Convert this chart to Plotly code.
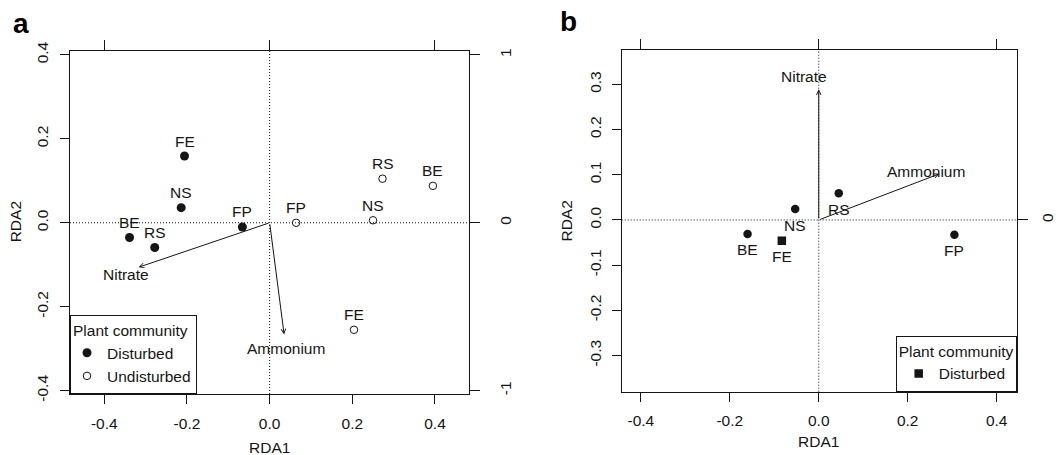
import plotly.graph_objects as go

# ---------------- data ----------------
# Panel a: site scores
a_dist_sites = ["FE", "NS", "FP", "BE", "RS"]
a_dist_x = [-0.206, -0.214, -0.066, -0.339, -0.278]
a_dist_y = [0.159, 0.036, -0.010, -0.035, -0.059]

a_undist_sites = ["RS", "BE", "NS", "FP", "FE"]
a_undist_x = [0.273, 0.395, 0.250, 0.064, 0.204]
a_undist_y = [0.105, 0.088, 0.006, 0.000, -0.255]

# Panel a: environmental vectors
a_env_names = ["Nitrate", "Ammonium"]
a_env_x = [-0.317, 0.035]
a_env_y = [-0.106, -0.266]

# Panel b: site scores (disturbed only)
b_sites = ["FE", "BE", "NS", "RS", "FP"]
b_x = [-0.083, -0.160, -0.053, 0.045, 0.305]
b_y = [-0.046, -0.031, 0.024, 0.059, -0.033]

# Panel b: environmental vectors
b_env_names = ["Nitrate", "Ammonium"]
b_env_x = [0.000, 0.271]
b_env_y = [0.289, 0.102]

# tick labels
a_xticks = [-0.4, -0.2, 0.0, 0.2, 0.4]
a_yticks = [-0.4, -0.2, 0.0, 0.2, 0.4]
a_y2ticks = [-1, 0, 1]
b_xticks = [-0.4, -0.2, 0.0, 0.2, 0.4]
b_yticks = [-0.3, -0.2, -0.1, 0.0, 0.1, 0.2, 0.3]
top_ticks = [-0.4, 0.0, 0.4]

# ---------------- style ----------------
W, H = 1060, 455
FONT = "Liberation Sans, Arial, Helvetica, sans-serif"
FS = 15.5
INK = "#151515"

def px_x(p):
    return p / W

def px_y(p):
    return 1 - p / H

a_xdom = [px_x(70), px_x(469.3)]
a_ydom = [px_y(394), px_y(50.7)]
b_xdom = [px_x(621.7), px_x(1016.7)]
b_ydom = [px_y(391.7), px_y(50)]

a_xr = [-0.483, 0.483]
a_yr = [-0.408, 0.410]
b_xr = [-0.443, 0.445]
b_yr = [-0.380, 0.376]

fig = go.Figure()

# panel a points
fig.add_trace(go.Scatter(
    x=a_dist_x, y=a_dist_y, mode="markers", name="Disturbed",
    marker=dict(symbol="circle", size=9, color=INK, line=dict(width=0)),
    xaxis="x", yaxis="y", legend="legend", hoverinfo="skip"))
fig.add_trace(go.Scatter(
    x=a_undist_x, y=a_undist_y, mode="markers", name="Undisturbed",
    marker=dict(symbol="circle-open", size=7.5, color=INK, line=dict(width=1)),
    xaxis="x", yaxis="y", legend="legend", hoverinfo="skip"))
# dummy trace to activate secondary axes of panel a
fig.add_trace(go.Scatter(x=[None], y=[None], xaxis="x2", yaxis="y2",
                         showlegend=False, hoverinfo="skip"))

# panel b points
b_symbols = ["square"] + ["circle"] * (len(b_sites) - 1)
fig.add_trace(go.Scatter(
    x=b_x, y=b_y, mode="markers", name="Disturbed",
    marker=dict(symbol=b_symbols, size=8.5, color=INK, line=dict(width=0)),
    xaxis="x3", yaxis="y3", legend="legend2", hoverinfo="skip"))
fig.add_trace(go.Scatter(x=[None], y=[None], xaxis="x4", yaxis="y4",
                         showlegend=False, hoverinfo="skip"))

annotations = []
shapes = []

def txt(**kw):
    d = dict(showarrow=False, xanchor="center", yanchor="middle",
             font=dict(family=FONT, size=FS, color=INK))
    d.update(kw)
    return d

def site_labels(names, xs, ys, xref, yref, yshift):
    for n, xv, yv in zip(names, xs, ys):
        annotations.append(txt(x=xv, y=yv, xref=xref, yref=yref, text=n,
                               yshift=yshift))

site_labels(a_dist_sites, a_dist_x, a_dist_y, "x", "y", 15)
site_labels(a_undist_sites, a_undist_x, a_undist_y, "x", "y", 15)
site_labels(b_sites, b_x, b_y, "x3", "y3", -16)

def env_vectors(names, xs, ys, xref, yref, shifts):
    for n, xv, yv, (dx, dy) in zip(names, xs, ys, shifts):
        annotations.append(dict(x=xv, y=yv, ax=0, ay=0, xref=xref, yref=yref,
                                axref=xref, ayref=yref, text="", showarrow=True,
                                arrowhead=5, arrowsize=0.9, arrowwidth=1,
                                arrowcolor=INK, standoff=0, startstandoff=0))
        annotations.append(txt(x=xv, y=yv, xref=xref, yref=yref, text=n,
                               xshift=dx, yshift=dy))

env_vectors(a_env_names, a_env_x, a_env_y, "x", "y", [(-13, -7), (2, -14)])
env_vectors(b_env_names, b_env_x, b_env_y, "x3", "y3", [(-15, 13), (-13, 2)])

# dotted zero lines
DOT = "1px,2px"
for xref, yref in (("x", "y"), ("x3", "y3")):
    shapes.append(dict(type="line", xref=xref, yref=yref + " domain",
                       x0=0, x1=0, y0=0, y1=1,
                       line=dict(color=INK, width=1, dash=DOT), layer="below"))
    shapes.append(dict(type="line", xref=xref + " domain", yref=yref,
                       x0=0, x1=1, y0=0, y1=0,
                       line=dict(color=INK, width=1, dash=DOT), layer="below"))

# axis titles and panel letters
for xref, yp in (("x", 447.7), ("x3", 441.7)):
    annotations.append(txt(x=0, y=px_y(yp), xref=xref, yref="paper", text="RDA1"))
for xp, yref in ((15, "y"), (566.7, "y3")):
    annotations.append(txt(x=px_x(xp), y=0.5, xref="paper", yref=yref + " domain",
                           text="RDA2", textangle=-90))
for letter, xp, yp in (("a", 20.5, 23), ("b", 568.3, 21)):
    annotations.append(txt(x=px_x(xp), y=px_y(yp), xref="paper", yref="paper",
                           text="<b>%s</b>" % letter,
                           font=dict(family=FONT, size=28, color="#000000")))

def fmt(v):
    return "%.1f" % v

axis_common = dict(showgrid=False, zeroline=False, showline=True, linecolor=INK,
                   linewidth=1, ticks="outside", tickcolor=INK, tickwidth=1,
                   ticklen=9, tickfont=dict(family=FONT, size=FS, color=INK),
                   fixedrange=True, automargin=False)

layout = dict(
    width=W, height=H, margin=dict(l=0, r=0, t=0, b=0, autoexpand=False),
    paper_bgcolor="white", plot_bgcolor="white",
    showlegend=True,
    # panel a
    xaxis=dict(domain=a_xdom, anchor="y", range=a_xr, tickvals=a_xticks,
               ticktext=[fmt(v) for v in a_xticks], ticklabelstandoff=6, **axis_common),
    yaxis=dict(domain=a_ydom, anchor="x", range=a_yr, tickvals=a_yticks,
               ticktext=[fmt(v) for v in a_yticks], tickangle=-90,
               ticklabelstandoff=6, **axis_common),
    xaxis2=dict(overlaying="x", side="top", anchor="y2", range=a_xr,
                tickvals=top_ticks, showticklabels=False,
                **{**axis_common, "ticklen": 10}),
    yaxis2=dict(overlaying="y", side="right", anchor="x2",
                range=[a_yr[0] / 0.4, a_yr[1] / 0.4], tickvals=a_y2ticks,
                ticktext=[str(v) for v in a_y2ticks], tickangle=-90,
                ticklabelstandoff=12, **{**axis_common, "ticklen": 10}),
    # panel b
    xaxis3=dict(domain=b_xdom, anchor="y3", range=b_xr, tickvals=b_xticks,
                ticktext=[fmt(v) for v in b_xticks], ticklabelstandoff=6, **axis_common),
    yaxis3=dict(domain=b_ydom, anchor="x3", range=b_yr, tickvals=b_yticks,
                ticktext=[fmt(v) for v in b_yticks], tickangle=-90,
                ticklabelstandoff=5, **axis_common),
    xaxis4=dict(overlaying="x3", side="top", anchor="y4", range=b_xr,
                tickvals=top_ticks, showticklabels=False,
                **{**axis_common, "ticklen": 10}),
    yaxis4=dict(overlaying="y3", side="right", anchor="x4",
                range=[b_yr[0] / 0.4, b_yr[1] / 0.4], tickvals=[0],
                ticktext=["0"], tickangle=-90, ticklabelstandoff=7,
                **{**axis_common, "ticklen": 10}),
    legend=dict(x=px_x(70), y=px_y(394), xanchor="left", yanchor="bottom",
                bgcolor="white", bordercolor=INK, borderwidth=1, indentation=-4,
                title=dict(text="Plant community",
                           font=dict(family=FONT, size=FS, color=INK)),
                font=dict(family=FONT, size=FS, color=INK),
                itemclick=False, itemdoubleclick=False),
    legend2=dict(x=px_x(1016.7), y=px_y(391.7), xanchor="right", yanchor="bottom",
                 bgcolor="white", bordercolor=INK, borderwidth=1, indentation=2,
                 title=dict(text="Plant community",
                            font=dict(family=FONT, size=FS, color=INK)),
                 font=dict(family=FONT, size=FS, color=INK),
                 itemclick=False, itemdoubleclick=False),
    annotations=annotations,
    shapes=shapes,
)
fig.update_layout(**layout)

fig.write_html("out.html", config=dict(displayModeBar=False, staticPlot=True),
               post_script="document.body.style.margin='0';"
                           "document.body.style.padding='0';"
                           "document.body.style.overflow='hidden';")
